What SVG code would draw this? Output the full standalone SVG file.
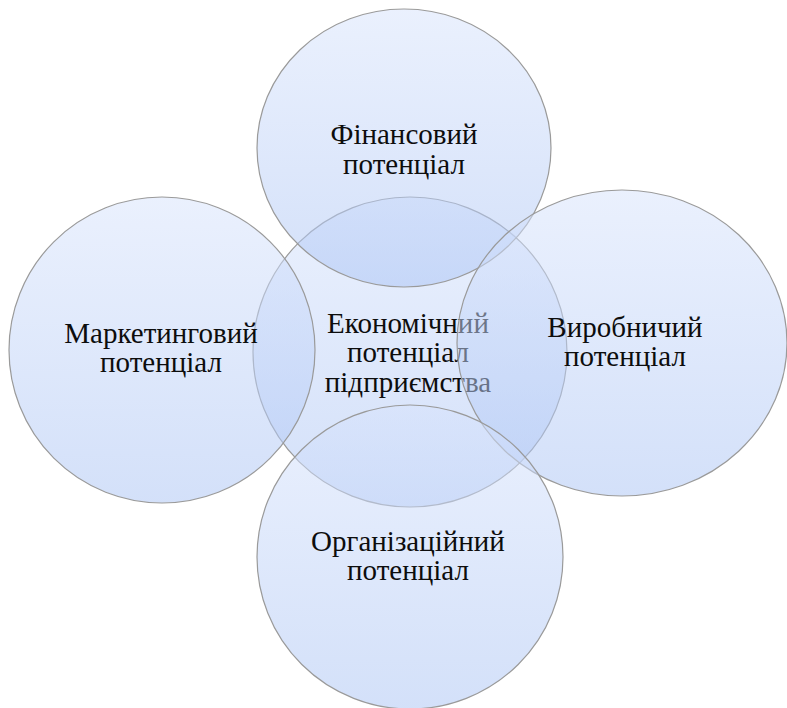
<svg xmlns="http://www.w3.org/2000/svg" width="787" height="708" viewBox="0 0 787 708">
<defs>
<linearGradient id="g" x1="0" y1="0" x2="0" y2="1">
<stop offset="0" stop-color="#d7e3fc" stop-opacity="0.52"/>
<stop offset="1" stop-color="#abc4f4" stop-opacity="0.52"/>
</linearGradient>
</defs>
<style>
.c{fill:url(#g);stroke:#9a9a9a;stroke-width:1.2}
.t{font-family:'Liberation Serif','Times New Roman',serif;font-size:29px;fill:#0d0d0d;text-anchor:middle}
</style>
<rect width="787" height="708" fill="#fff"/>
<g id="center">
<ellipse class="c" cx="410" cy="352" rx="157" ry="155"/>
<text class="t"><tspan x="408" y="333">Економічний</tspan><tspan x="408" y="362">потенціал</tspan><tspan x="408" y="392">підприємства</tspan></text>
</g>
<g id="top">
<ellipse class="c" cx="404" cy="148" rx="147" ry="139"/>
<text class="t"><tspan x="404" y="144">Фінансовий</tspan><tspan x="404" y="174">потенціал</tspan></text>
</g>
<g id="right">
<ellipse class="c" cx="622" cy="343" rx="165" ry="153"/>
<text class="t"><tspan x="625" y="337">Виробничий</tspan><tspan x="625" y="366">потенціал</tspan></text>
</g>
<g id="bottom">
<ellipse class="c" cx="410" cy="557" rx="153" ry="152"/>
<text class="t"><tspan x="408" y="551">Організаційний</tspan><tspan x="408" y="580">потенціал</tspan></text>
</g>
<g id="left">
<ellipse class="c" cx="162" cy="350" rx="153" ry="153"/>
<text class="t"><tspan x="161" y="343">Маркетинговий</tspan><tspan x="161" y="372">потенціал</tspan></text>
</g>
<g id="connectors"/>
</svg>
